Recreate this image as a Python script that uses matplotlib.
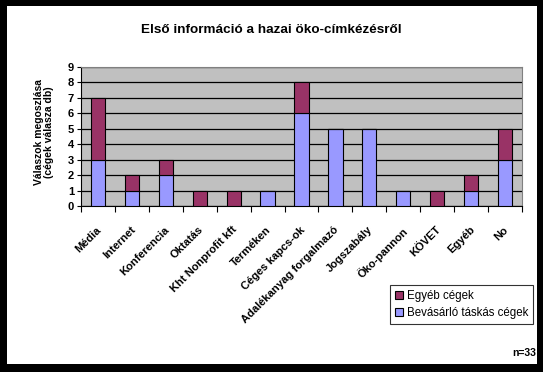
import matplotlib.pyplot as plt
from matplotlib.patches import Rectangle
import numpy as np

plt.rcParams['font.family'] = ['Liberation Sans', 'DejaVu Sans']

# Chart data
categories = ['Média', 'Internet', 'Konferencia', 'Oktatás', 'Kht Nonprofit kft',
              'Terméken', 'Céges kapcs-ok', 'Adalékanyag forgalmazó', 'Jogszabály',
              'Öko-pannon', 'KÖVET', 'Egyéb', 'No']
bevasarlo = [3, 1, 2, 0, 0, 1, 6, 5, 5, 1, 0, 1, 3]
egyeb = [4, 1, 1, 1, 1, 0, 2, 0, 0, 0, 1, 1, 2]
series_names = ['Bevásárló táskás cégek', 'Egyéb cégek']

W, H = 543, 372
fig = plt.figure(figsize=(W / 100, H / 100), dpi=100)
fig.patch.set_facecolor('black')
# white chart area inside black frame
fig.patches.append(Rectangle((7 / W, 1 - 364 / H), (537 - 7) / W, (364 - 6) / H,
                             transform=fig.transFigure, facecolor='white',
                             edgecolor='none', zorder=-5))

ax = fig.add_axes([81 / W, 1 - 206 / H, (522 - 81) / W, (206 - 67) / H])
ax.set_zorder(2)
ax.set_facecolor('#C0C0C0')

x = np.arange(len(categories))
ax.bar(x, bevasarlo, width=0.42, color='#9999FF', edgecolor='black', linewidth=0.8,
       label=series_names[0], zorder=3)
ax.bar(x, egyeb, width=0.42, bottom=bevasarlo, color='#993366', edgecolor='black',
       linewidth=0.8, label=series_names[1], zorder=3)

ax.set_xlim(-0.5, len(categories) - 0.5)
ax.set_ylim(0, 9)
ax.set_yticks(range(10))
ax.yaxis.grid(True, color='black', linewidth=0.9, zorder=1)
ax.set_axisbelow(True)

for s in ['top', 'right']:
    ax.spines[s].set_color('#808080')
for s in ['left', 'bottom']:
    ax.spines[s].set_color('black')

ax.set_xticks(np.arange(len(categories) + 1) - 0.5, minor=False)
ax.set_xticklabels([])
ax.tick_params(axis='x', length=4, color='black', direction='out')
ax.tick_params(axis='y', length=3, labelsize=8, pad=2)
for lab in ax.get_yticklabels():
    lab.set_fontweight('bold')

for i, c in enumerate(categories):
    ax.text(i - 0.05, -1.2, c, rotation=45, ha='right', va='top', fontsize=8,
            fontweight='bold', rotation_mode='anchor')

fig.text(271 / W, 1 - 30 / H, 'Első információ a hazai öko-címkézésről',
         ha='center', va='center', fontsize=9.7, fontweight='bold')
fig.text(44 / W, 1 - 132 / H, 'Válaszok megoszlása\n(cégek válasza db)',
         ha='center', va='center', rotation=90, fontsize=7.5, fontweight='bold',
         linespacing=1.05)

handles, labels = ax.get_legend_handles_labels()
leg = fig.legend(handles[::-1], labels[::-1], loc='upper left',
                 bbox_to_anchor=(390 / W, 1 - 285 / H), fontsize=8.3,
                 frameon=True, fancybox=False, edgecolor='black',
                 handlelength=0.7, handleheight=0.7, handletextpad=0.4,
                 borderpad=0.4, labelspacing=0.5, borderaxespad=0)
leg.get_frame().set_linewidth(0.8)

fig.text(536 / W, 1 - 353 / H, 'n=33', ha='right', va='center', fontsize=7.5,
         fontweight='bold')

fig.savefig('out.png', dpi=100, facecolor=fig.get_facecolor())
